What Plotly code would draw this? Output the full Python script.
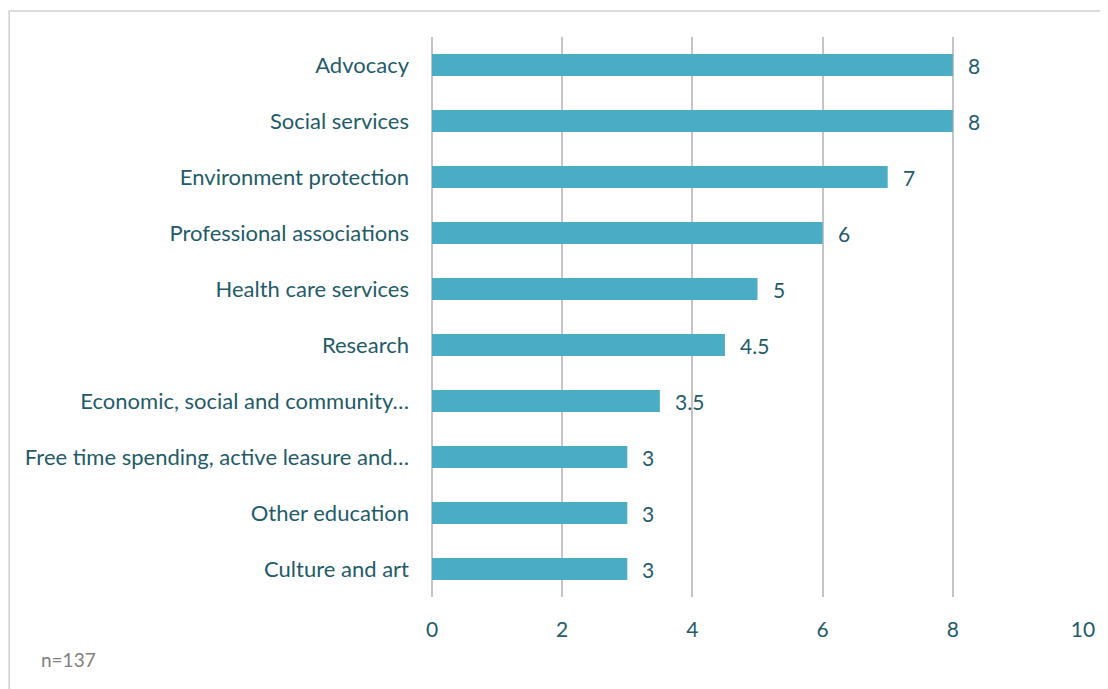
import plotly.graph_objects as go

categories = ["Advocacy", "Social services", "Environment protection", "Professional associations",
              "Health care services", "Research", "Economic, social and community…",
              "Free time spending, active leasure and…", "Other education", "Culture and art"]
values = [8, 8, 7, 6, 5, 4.5, 3.5, 3, 3, 3]
value_labels = ["8", "8", "7", "6", "5", "4.5", "3.5", "3", "3", "3"]
x_ticks = [0, 2, 4, 6, 8, 10]
note = "n=137"

text_color = "#235B69"
bar_color = "#4BACC6"
font_family = "Lato, Open Sans, sans-serif"

fig = go.Figure()
fig.add_trace(go.Bar(
    y=categories, x=values, orientation="h",
    marker=dict(color=bar_color, line=dict(width=0)),
    width=0.39, hoverinfo="x+y",
))

for c, v, t in zip(categories, values, value_labels):
    fig.add_annotation(x=v, y=c, text=t, showarrow=False, xanchor="left", xshift=13,
                       font=dict(family=font_family, size=21, color=text_color))

fig.add_annotation(x=-0.603, y=-0.112, xref="paper", yref="paper", text=note, showarrow=False,
                   xanchor="left", yanchor="middle",
                   font=dict(family=font_family, size=19, color="#808080"))

fig.add_shape(type="rect", xref="paper", yref="paper", x0=-0.6495, x1=1.2, y0=-0.3, y1=1.0464,
              line=dict(color="#D0D0D0", width=1.5), fillcolor="rgba(0,0,0,0)", layer="below")

fig.update_layout(
    width=1100, height=681,
    margin=dict(l=424, r=25, t=29, b=92),
    paper_bgcolor="white", plot_bgcolor="white",
    showlegend=False,
    font=dict(family=font_family, size=21, color=text_color),
    xaxis=dict(range=[0, 10], tickvals=x_ticks, ticktext=[str(t) for t in x_ticks],
               showgrid=True, gridcolor="#C4C4C4", gridwidth=1.5,
               zeroline=True, zerolinecolor="#C4C4C4", zerolinewidth=1.5,
               showline=False, ticks="", ticklabelstandoff=18,
               tickfont=dict(family=font_family, size=21, color=text_color), fixedrange=True),
    yaxis=dict(categoryorder="array", categoryarray=categories[::-1], autorange=True,
               showgrid=False, zeroline=False, showline=False, ticks="", ticklabelstandoff=22,
               tickfont=dict(family=font_family, size=22, color=text_color), fixedrange=True),
)

fig.write_html("out.html")
